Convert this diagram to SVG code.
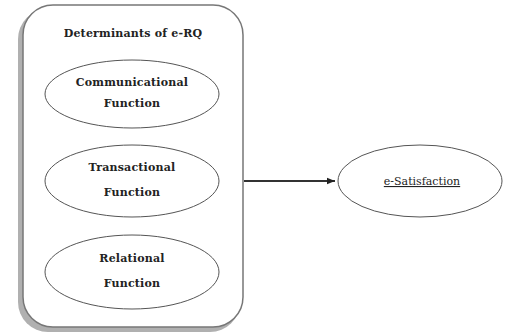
<svg xmlns="http://www.w3.org/2000/svg" width="505" height="334" viewBox="0 0 505 334">
<style>
.lbl{font-family:"DejaVu Serif","Liberation Serif",serif;font-size:11px;font-weight:bold;fill:#222;text-anchor:middle;letter-spacing:0.2px}
.lbl2{font-family:"DejaVu Serif","Liberation Serif",serif;font-size:11px;fill:#222;text-anchor:middle;text-decoration:underline}
.el{fill:#fff;stroke:#555;stroke-width:1}
.conn{stroke:#333;stroke-width:2;fill:none}
</style>
<defs>
<marker id="ah" viewBox="0 0 10 10" refX="10" refY="5" markerWidth="5" markerHeight="4" orient="auto" markerUnits="strokeWidth">
<path d="M0,1 L10,5 L0,9 Z" fill="#222"/>
</marker>
</defs>
<rect width="505" height="334" fill="#fff"/>
<g id="container">
<rect x="18" y="9" width="222" height="323" rx="30" fill="#b0b0b0"/>
<rect x="23" y="5" width="220" height="322" rx="30" fill="#fff" stroke="#777" stroke-width="1.5"/>
<text class="lbl" x="133" y="37">Determinants of e-RQ</text>
</g>
<g id="communicational">
<ellipse class="el" cx="132" cy="94" rx="87" ry="34"/>
<text class="lbl" x="132" y="86">Communicational</text>
<text class="lbl" x="132" y="107">Function</text>
</g>
<g id="transactional">
<ellipse class="el" cx="132" cy="181" rx="87" ry="36"/>
<text class="lbl" x="132" y="171">Transactional</text>
<text class="lbl" x="132" y="196">Function</text>
</g>
<g id="relational">
<ellipse class="el" cx="132" cy="272" rx="87" ry="37"/>
<text class="lbl" x="132" y="262">Relational</text>
<text class="lbl" x="132" y="287">Function</text>
</g>
<g id="connectors">
<line class="conn" x1="244" y1="181" x2="335" y2="181" marker-end="url(#ah)"/>
</g>
<g id="esatisfaction">
<ellipse class="el" cx="420" cy="181" rx="82" ry="36"/>
<text class="lbl2" x="422" y="185">e-Satisfaction</text>
</g>
</svg>
